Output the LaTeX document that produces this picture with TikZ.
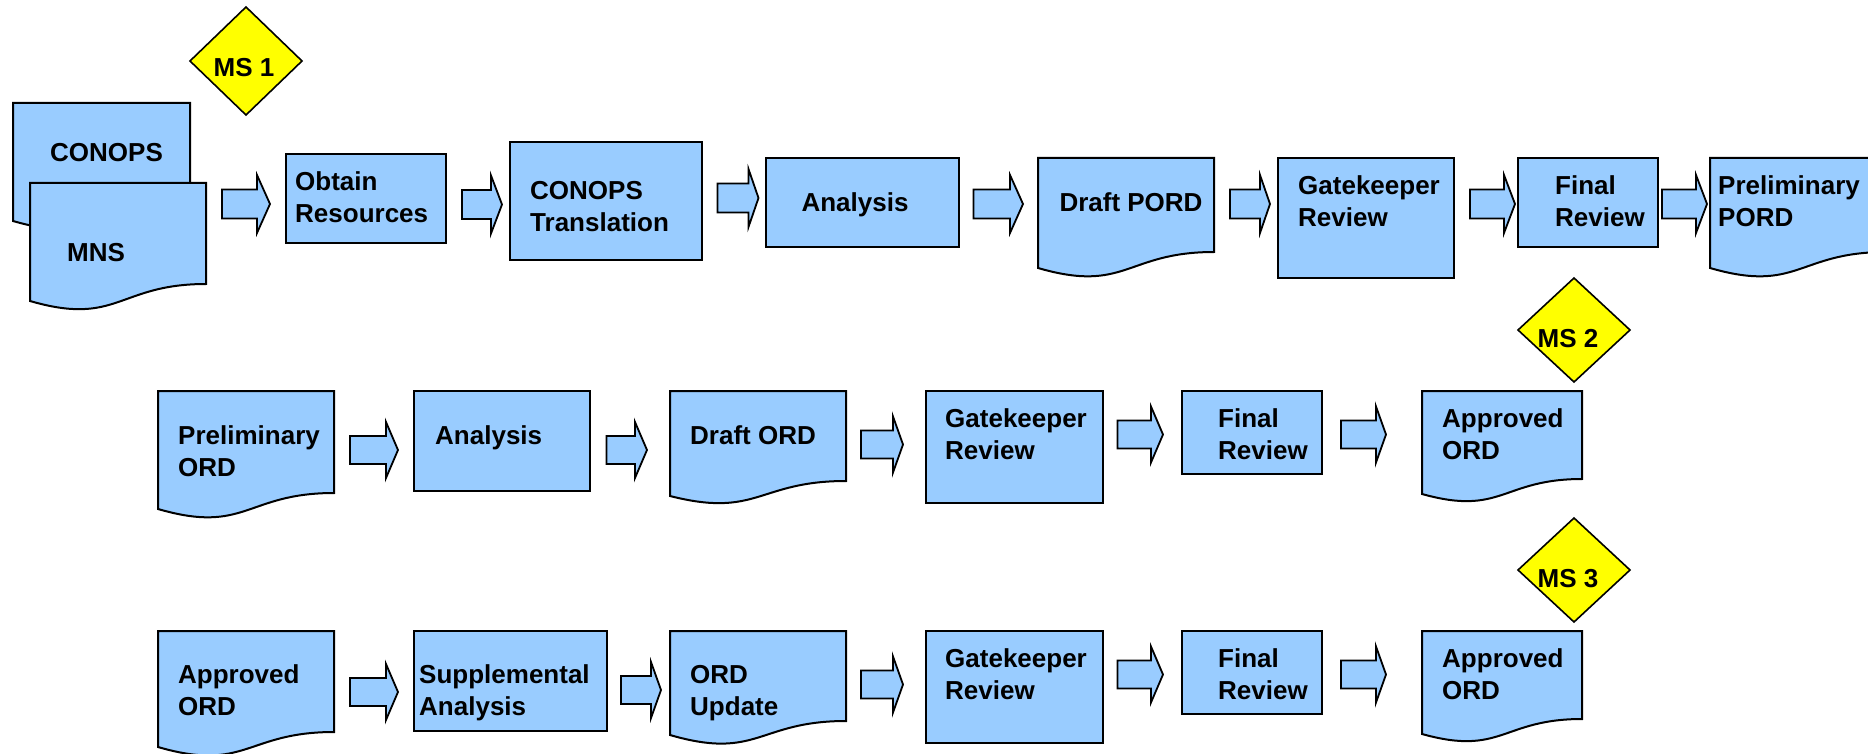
\documentclass[tikz,border=0pt]{standalone}
\usepackage{fontspec}
\setmainfont{Liberation Sans}
\definecolor{boxblue}{HTML}{99CCFF}
\definecolor{msyellow}{HTML}{FFFF00}
\tikzset{
  shapebox/.style={draw=black, fill=boxblue, line width=2pt, line join=miter},
  blockarrow/.style={draw=black, fill=boxblue, line width=1.8pt, line join=miter},
  milestone/.style={draw=black, fill=msyellow, line width=1.6pt, line join=miter},
  lbl/.style={font=\bfseries\fontsize{26}{32}\selectfont, inner sep=0pt, text depth=0pt, align=left, anchor=west},
  clbl/.style={lbl, anchor=center, align=center},
}
\newcommand\docshape[6]{% L R top yr yl ymin
  \pgfmathsetmacro\dsM{(#1+#2)/2}%
  \pgfmathsetmacro\dsC{#5+3.2*(#6-#5)}%
  \draw[shapebox] (#1,#3) -- (#2,#3) -- (#2,#4) .. controls (\dsM,#4) and (\dsM,\dsC) .. (#1,#5) -- cycle;
}
\newcommand\barrow[6]{% L base tip cy bodyhalf headhalf
  \draw[blockarrow] (#1,{#4-#5}) -- (#2,{#4-#5}) -- (#2,{#4-#6}) -- (#3,#4) -- (#2,{#4+#6}) -- (#2,{#4+#5}) -- (#1,{#4+#5}) -- cycle;
}
\newcommand\msdiamond[4]{% cx cy halfw halfh
  \draw[milestone] ({#1-#3},#2) -- (#1,{#2-#4}) -- ({#1+#3},#2) -- (#1,{#2+#4}) -- cycle;
}
\begin{document}
\begin{tikzpicture}[x=1pt,y=-1pt]
\useasboundingbox (0,0) rectangle (1868,754);
\clip (0,0) rectangle (1868,754);
\fill[white] (0,0) rectangle (1868,754);

% ---------- Row 1 ----------
\msdiamond{246}{61}{56}{54}
\node[clbl] (ms1) at (244,67) {MS 1};

\docshape{13}{190}{103}{204}{221}{229}
\node[lbl] (tconops) at (50,152) {CONOPS};
\docshape{30}{206}{183}{284}{301}{309}
\node[lbl] (tmns) at (67,252) {MNS};

\barrow{222}{257}{270}{204}{14.5}{29}
\draw[shapebox] (286,154) rectangle (446,243);
\node[lbl] (tobtain) at (295,197.5) {Obtain\\Resources};

\barrow{462}{491}{502}{204.5}{14.5}{29}
\draw[shapebox] (510,142) rectangle (702,260);
\node[lbl] (ttrans) at (530,206) {CONOPS\\Translation};

\barrow{717.5}{748.5}{758.5}{198}{14.5}{29}
\draw[shapebox] (766,158) rectangle (959,247);
\node[clbl] (tana1) at (855,202) {Analysis};

\barrow{973.5}{1010}{1023}{204}{14.5}{29}
\docshape{1038}{1214}{158}{252}{268}{276}
\node[clbl] (tdpord) at (1131,202) {Draft PORD};

\barrow{1230}{1260}{1270}{204}{14.5}{29}
\draw[shapebox] (1278,158) rectangle (1454,278);
\node[lbl] (tgk1) at (1298,201.5) {Gatekeeper\\Review};

\barrow{1470}{1504}{1515}{204}{14.5}{29}
\draw[shapebox] (1518,158) rectangle (1658,247);
\node[lbl] (tfr1) at (1555,201.5) {Final\\Review};

\barrow{1662}{1696}{1707}{204}{14.5}{29}
\docshape{1710}{1886}{158}{252}{268}{276}
\node[lbl] (tppord) at (1718,201.5) {Preliminary\\PORD};

% ---------- Row 2 ----------
\docshape{158}{334}{391}{493}{509}{517}
\node[lbl] (tpord2) at (178,451) {Preliminary\\ORD};

\barrow{350}{386}{398}{450}{14}{28}
\draw[shapebox] (414,391) rectangle (590,491);
\node[lbl] (tana2) at (435,435) {Analysis};

\barrow{606.5}{635}{647}{450}{14}{28}
\docshape{670}{846}{391}{481}{496}{503}
\node[lbl] (tdord) at (690,435) {Draft ORD};

\barrow{861}{893}{903}{444.5}{14}{28}
\draw[shapebox] (925.5,391) rectangle (1102.5,503);
\node[lbl] (tgk2) at (945,434.5) {Gatekeeper\\Review};

\barrow{1117.5}{1151}{1163}{434.5}{14}{28}
\draw[shapebox] (1182,391) rectangle (1321.5,474);
\node[lbl] (tfr2) at (1218,434) {Final\\Review};

\barrow{1341}{1376}{1386}{434.5}{14}{28}
\docshape{1422}{1582}{391}{479}{494}{501}
\node[lbl] (tao2) at (1442,434) {Approved\\ORD};

\msdiamond{1574}{330}{56}{52}
\node[clbl] (ms2) at (1568,338) {MS 2};

% ---------- Row 3 ----------
\docshape{158}{334}{631}{732}{747}{755}
\node[lbl] (tao3a) at (178,690) {Approved\\ORD};

\barrow{350}{386}{398}{692}{14}{28}
\draw[shapebox] (414,631) rectangle (606.5,731);
\node[lbl] (tsupp) at (419,690) {Supplemental\\Analysis};

\barrow{621}{651}{661}{690}{14}{28}
\docshape{670}{846}{631}{721}{735}{743}
\node[lbl] (tupd) at (690,690) {ORD\\Update};

\barrow{861}{893}{903}{684.5}{14}{28}
\draw[shapebox] (925.5,631) rectangle (1102.5,743);
\node[lbl] (tgk3) at (945,674.5) {Gatekeeper\\Review};

\barrow{1117.5}{1151}{1163}{674.5}{14}{28}
\draw[shapebox] (1182,631) rectangle (1321.5,714);
\node[lbl] (tfr3) at (1218,674.5) {Final\\Review};

\barrow{1341}{1376}{1386}{674.5}{14}{28}
\docshape{1422}{1582}{631}{719}{734}{741}
\node[lbl] (tao3b) at (1442,674) {Approved\\ORD};

\msdiamond{1574}{570}{56}{52}
\node[clbl] (ms3) at (1568,578) {MS 3};
\end{tikzpicture}
\end{document}
